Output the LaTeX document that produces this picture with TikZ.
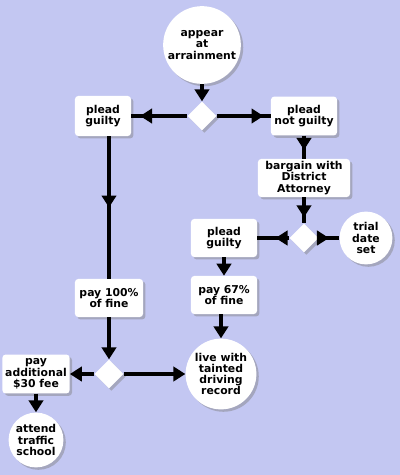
\documentclass[tikz,border=0pt]{standalone}
\usepackage{fontspec}
\setsansfont{DejaVu Sans}
\usetikzlibrary{positioning,arrows.meta,shapes.geometric,shadows}
\usetikzlibrary{decorations.markings}
\definecolor{bgblue}{RGB}{195,199,242}
\tikzset{
  txt/.style={align=center, inner sep=1pt, font=\sffamily\bfseries\fontsize{7.7}{8}\selectfont},
  shade/.style={drop shadow={shadow xshift=0.06cm, shadow yshift=-0.06cm, opacity=0.45}},
  box/.style={txt, shade, fill=white, rounded corners=0.08cm, minimum width=1.65cm, minimum height=0.95cm},
  blob/.style={txt, shade, fill=white, circle},
  choice/.style={shade, fill=white, diamond, aspect=1, inner sep=0pt, minimum size=0.72cm},
  line/.style={line width=0.1cm},
  flow/.style={line, -{Triangle[length=0.3cm,width=0.36cm]}},
  tipat/.style={postaction={decorate}, decoration={markings,
      mark=at position #1 with {\arrow{Triangle[length=0.3cm,width=0.36cm]}}}},
}
\begin{document}
\begin{tikzpicture}[x=0.025cm, y=-0.025cm]
    \fill[bgblue] (0,0) rectangle (400,475);
%
    \node[blob, minimum size=1.9cm] (arraign) at (202,45) {appear\\at\\arrainment};
    \node[choice] (plea) at (202,116) {};
    \node[box, minimum width=1.4cm, minimum height=1cm] (guilty) at (103,116) {plead\\guilty};
    \node[box, minimum width=1.65cm, minimum height=0.97cm] (notguilty) at (304,116) {plead\\not guilty};
    \node[box, minimum width=2.3cm, minimum height=0.95cm] (bargain) at (304,178) {bargain with\\District\\Attorney};
    \node[choice] (deal) at (304,238) {};
    \node[box] (guiltyb) at (224,238) {plead\\guilty};
    \node[blob, minimum size=1.32cm] (trial) at (366,238) {trial\\date\\set};
    \node[box] (pay67) at (224,295) {pay 67\%\\of fine};
    \node[box, minimum width=1.7cm] (pay100) at (109,298) {pay 100\%\\of fine};
    \node[choice] (school) at (109,374) {};
    \node[box, minimum width=1.68cm, minimum height=0.97cm] (extra) at (36,374) {pay\\additional\\\$30 fee};
    \node[blob, minimum size=1.35cm] (traffic) at (36,440) {attend\\traffic\\school};
    \node[blob, minimum size=1.65cm] (record) at (221,374) {live with\\tainted\\driving\\record};
%
    \draw[flow] (arraign) -- (plea);
    \draw[line, tipat=-0.22cm] (plea) -- (guilty);
    \draw[line, tipat=-0.18cm] (plea) -- (notguilty);
    \draw[line, tipat=0.5] (guilty.south -| pay100) -- (pay100);
    \draw[line, tipat=-0.22cm] (notguilty) -- (bargain);
    \draw[line, tipat=-0.15cm] (bargain) -- (deal);
    \draw[line, tipat=0.43] (deal) -- (guiltyb);
    \draw[line, tipat=0.5] (deal) -- (trial);
    \draw[flow] (guiltyb) -- (pay67);
    \draw[flow] (pay67.south -| record) -- (record);
    \draw[flow] (pay100) -- (school);
    \draw[flow] (school) -- (extra);
    \draw[flow] (school) -- (record);
    \draw[flow] (extra) -- (traffic);
\end{tikzpicture}
\end{document}
